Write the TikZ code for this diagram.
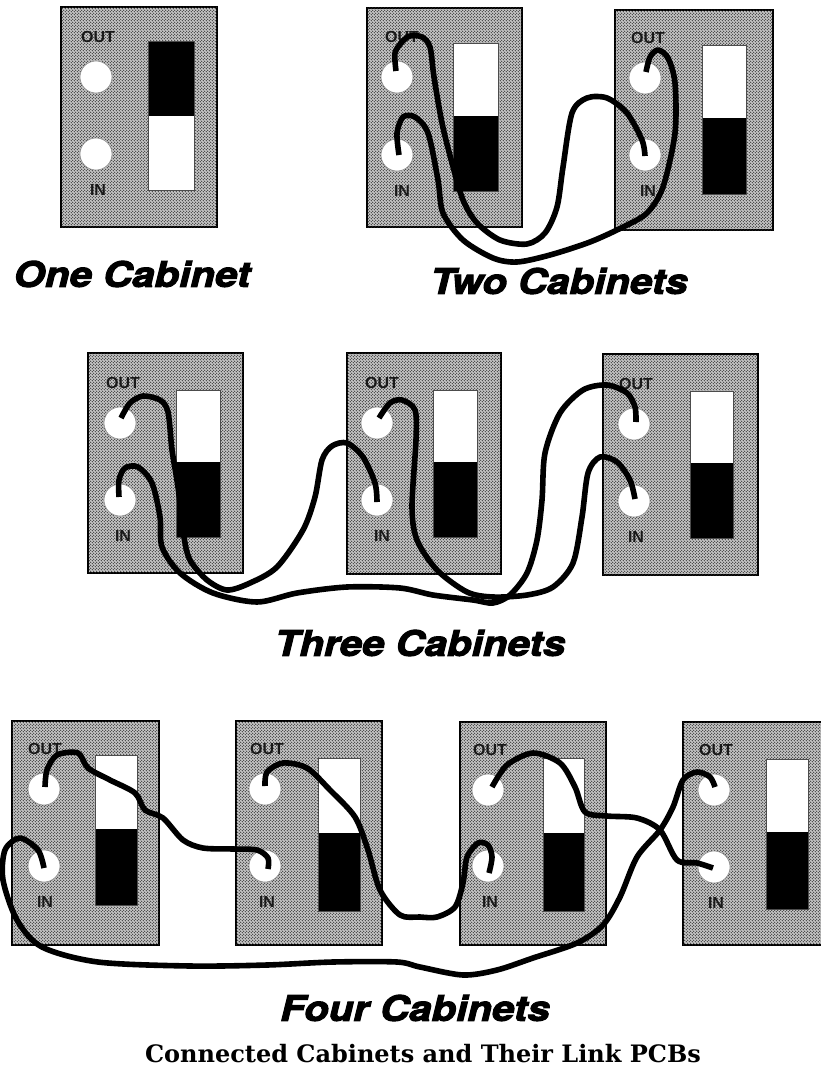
\documentclass[tikz,border=0pt]{standalone}
\usepackage{fontspec}
\usetikzlibrary{patterns}
\newfontfamily\titlefont[FakeBold=3,FakeStretch=1.15]{TeX Gyre Heros}
\newfontfamily\labelfont{Liberation Sans}
\newfontfamily\capfont{DejaVu Serif}
\pgfdeclarepatternformonly{halftone}{\pgfpoint{-1.5pt}{-1.5pt}}{\pgfpoint{1.5pt}{1.5pt}}{\pgfpoint{3pt}{3pt}}{%
\pgfpathcircle{\pgfpoint{-.75pt}{-.75pt}}{.72pt}
\pgfpathcircle{\pgfpoint{.75pt}{.75pt}}{.72pt}
\pgfusepath{fill}}
\tikzset{
panel/.style={draw=black,line width=1.4pt,fill=black!22,postaction={pattern=halftone,pattern color=black!85}},
port/.style={circle,fill=white,draw=black!45,line width=.6pt,minimum size=32pt,inner sep=0pt},
wire/.style={draw=black,line width=5.6pt,line join=round,smooth,tension=0.5},
tag/.style={font=\labelfont\bfseries\fontsize{16}{16}\selectfont,text=black!90,inner sep=0pt},
heading/.style={font=\titlefont\bfseries\itshape\fontsize{35}{35}\selectfont,inner sep=0pt},
}
\begin{document}
\begin{tikzpicture}[x=1pt,y=-1pt]
\useasboundingbox (0,0) rectangle (820,1073);
\fill[white] (0,0) rectangle (820,1073);

% Cabinets: name/left/top/right/bottom/port x/out y/in y/tag x/switch left,right,top,bottom,middle/upper,lower
\foreach \nm/\l/\t/\r/\b/\cx/\oy/\iy/\tx/\sl/\sr/\st/\sb/\sm/\up/\lo in {
one/61/7/217/227/96/77/154/98/148/194/41/190/116/black/white,
twoA/367/8/522/227/397/77/155/402/453/498/43/191/116/white/black,
twoB/615/10/773/230/645/78/155/648/702/746/45/194/118/white/black,
threeA/88/353/243/573/120/423/500/123/176/220/390/537/462/white/black,
threeB/347/353/501/574/377/423/500/382/433/477/390/537/462/white/black,
threeC/603/354/758/575/634/424/501/636/690/733/391/538/463/white/black,
fourA/12/721/159/945/44/789/866/45/95/137/755/905/829/white/black,
fourB/236/721/382/945/265/789/866/267/318/360/758/911/833/white/black,
fourC/460/722/606/945/488/790/866/490/543/584/758/911/833/white/black,
fourD/683/722/830/945/714/790/867/716/766/808/759/909/832/white/black}
{
\draw[panel] (\l,\t) rectangle (\r,\b);
\fill[\up] (\sl,\st) rectangle (\sr,\sm);
\fill[\lo] (\sl,\sm) rectangle (\sr,\sb);
\draw[black!70,line width=.7pt] (\sl,\st) rectangle (\sr,\sb);
\node[port] (\nm out) at (\cx,\oy) {};
\node[port] (\nm in) at (\cx,\iy) {};
\node[tag] (\nm outtag) at (\tx,\oy-40) {OUT};
\node[tag] (\nm intag) at (\tx,\iy+36) {IN};
}

% Two cabinets
\draw[wire] plot coordinates {([shift={(-1,-6)}]twoAout.center) (395,53) (402,42) (410,36) (422,37) (430,47) (434,77) (442,123) (452,163) (463,200) (477,223) (500,240) (527,244) (545,233) (557,207) (563,167) (572,113) (587,98) (607,98) (627,113) (642,140) ([shift={(0,1)}]twoBin.center)};
\draw[wire] plot coordinates {([shift={(2,0)}]twoAin.center) (397,133) (403,117) (415,117) (428,133) (438,180) (443,213) (463,240) (493,258) (517,262) (550,255) (590,242) (623,227) (647,213) (663,187) (675,133) (675,83) (668,58) (658,50) (650,57) ([shift={(1,-6)}]twoBout.center)};

% Three cabinets
\draw[wire] plot coordinates {([shift={(1,-5)}]threeAout.center) (130,403) (143,396) (160,400) (168,412) (172,450) (178,487) (184,537) (190,560) (207,580) (227,590) (250,583) (277,567) (303,530) (315,497) (322,460) (332,446) (347,443) (363,457) (375,483) ([shift={(0,2)}]threeBin.center)};
\draw[wire] plot coordinates {([shift={(-1,-3)}]threeAin.center) (119,480) (125,468) (138,467) (152,483) (160,517) (162,547) (180,573) (213,593) (257,602) (297,593) (347,587) (400,588) (433,595) (473,600) (493,603) (510,595) (527,573) (537,540) (542,500) (545,453) (560,413) (583,390) (607,385) (627,393) (635,407) ([shift={(2,-2)}]threeCout.center)};
\draw[wire] plot coordinates {([shift={(2,-5)}]threeBout.center) (390,403) (402,400) (415,410) (416,440) (412,507) (417,540) (437,570) (467,592) (493,597) (527,595) (553,587) (573,563) (582,517) (588,473) (600,457) (617,462) (630,480) ([shift={(1,-2)}]threeCin.center)};

% Four cabinets
\draw[wire] plot coordinates {([shift={(1,-2)}]fourAout.center) (47,770) (57,755) (78,753) (88,768) (110,780) (135,793) (145,810) (163,818) (183,840) (203,848) (233,849) (257,850) (268,858) ([shift={(3,3)}]fourBin.center)};
\draw[wire] plot coordinates {([shift={(0,-3)}]fourBout.center) (267,772) (283,763) (307,768) (330,790) (355,817) (368,850) (380,890) (400,915) (420,917) (437,917) (455,907) (463,883) (467,857) (478,843) (488,845) (492,857) ([shift={(1,7)}]fourCin.center)};
\draw[wire] plot coordinates {([shift={(4,-3)}]fourCout.center) (507,765) (533,753) (560,763) (575,787) (585,812) (607,816) (637,818) (660,830) (677,860) (697,863) ([shift={(-1,1)}]fourDin.center)};
\draw[wire] plot coordinates {([shift={(0,2)}]fourAin.center) (38,850) (20,838) (5,850) (3,880) (17,920) (42,947) (98,962) (190,966) (267,965) (333,962) (397,962) (420,967) (463,975) (497,970) (533,958) (577,943) (603,925) (620,897) (637,857) (660,830) (673,807) (683,780) (697,772) (710,777) ([shift={(1,-3)}]fourDout.center)};

% Titles
\node[heading] (onetitle) at (132,274) {One Cabinet};
\node[heading] (twotitle) at (559,281) {Two Cabinets};
\node[heading] (threetitle) at (420,643) {Three Cabinets};
\node[heading] (fourtitle) at (415,1008) {Four Cabinets};
\node[font=\capfont\bfseries\fontsize{24}{24}\selectfont,inner sep=0pt] (caption) at (423,1054) {Connected Cabinets and Their Link PCBs};
\end{tikzpicture}
\end{document}
